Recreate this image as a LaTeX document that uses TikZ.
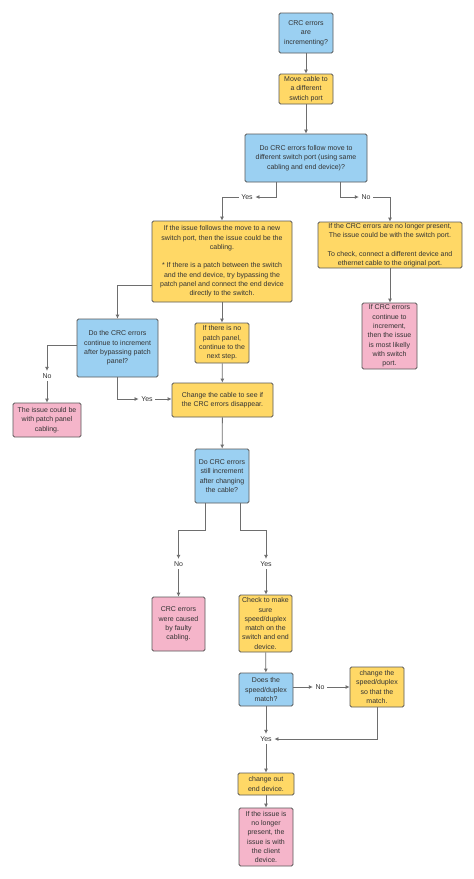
\documentclass[tikz,border=0pt]{standalone}
\usepackage{fontspec}
\setmainfont{Liberation Sans}
\usetikzlibrary{arrows.meta}
\definecolor{bblue}{HTML}{9BD0F2}
\definecolor{byell}{HTML}{FFD866}
\definecolor{bpink}{HTML}{F5B5CA}
\definecolor{bline}{HTML}{5A5A5A}
\definecolor{conn}{HTML}{6E6E6E}
\definecolor{txt}{HTML}{333333}
\begin{document}
\begin{tikzpicture}[x=1pt,y=-1pt,
  box/.style={draw=bline,line width=0.8pt,rounded corners=1.5pt,inner sep=0pt,align=center,
    text=txt,font=\fontsize{7}{9.3}\selectfont},
  qbox/.style={box,fill=bblue},
  ybox/.style={box,fill=byell},
  pbox/.style={box,fill=bpink},
  lbl/.style={text=txt,font=\fontsize{7}{9}\selectfont,inner sep=2.5pt},
  arr/.style={draw=conn,line width=0.8pt,-{Latex[length=4pt,width=4pt]}},
  ln/.style={draw=conn,line width=0.8pt}]
\useasboundingbox (0,0) rectangle (474,879);
\fill[white] (0,0) rectangle (474,879);
% boxes
\node[qbox,minimum width=54pt,minimum height=40pt] (b1) at (306,33) {CRC errors\\are\\incrementing?};
\node[ybox,minimum width=54pt,minimum height=30pt] (b2) at (306,89) {Move cable to\\a different\\swtich port};
\node[qbox,minimum width=122pt,minimum height=48pt] (b3) at (306,158) {Do CRC errors follow move to\\different switch port (using same\\cabling and end device)?};
\node[ybox,minimum width=140pt,minimum height=81pt] (b4) at (222,261.5) {If the issue follows the move to a new\\switch port, then the issue could be the\\cabling.\\[9.3pt]* If there is a patch between the switch\\and the end device, try bypassing the\\patch panel and connect the end device\\directly to the switch.};
\node[ybox,minimum width=144pt,minimum height=46pt] (b5) at (390,245) {If the CRC errors are no longer present,\\The issue could be with the switch port.\\[9.3pt]To check, connect a different device and\\ethernet cable to the original port.};
\node[pbox,minimum width=55pt,minimum height=66pt] (b6) at (389.5,336) {If CRC errors\\continue to\\increment,\\then the issue\\is most likelly\\with switch\\port.};
\node[qbox,minimum width=81pt,minimum height=58pt] (b7) at (117.5,348) {Do the CRC errors\\continue to increment\\after bypassing patch\\panel?};
\node[pbox,minimum width=68pt,minimum height=34pt] (b8) at (47,420) {The issue could be\\with patch panel\\cabling.};
\node[ybox,minimum width=101pt,minimum height=34pt] (b9) at (222.5,400) {Change the cable to see if\\the CRC errors disappear.};
\node[ybox,minimum width=54pt,minimum height=40pt] (b10) at (222,343) {If there is no\\patch panel,\\continue to the\\next step.};
\node[qbox,minimum width=54pt,minimum height=54pt] (b11) at (222,476) {Do CRC errors\\still increment\\after changing\\the cable?};
\node[pbox,minimum width=53pt,minimum height=54pt] (b12) at (178.5,624) {CRC errors\\were caused\\by faulty\\cabling.};
\node[ybox,minimum width=53pt,minimum height=57pt] (b13) at (265.5,623.5) {Check to make\\sure\\speed/duplex\\match on the\\switch and end\\device.};
\node[qbox,minimum width=54pt,minimum height=33pt] (b14) at (266,689.5) {Does the\\speed/duplex\\match?};
\node[ybox,minimum width=54pt,minimum height=40pt] (b15) at (377,687) {change the\\speed/duplex\\so that the\\match.};
\node[ybox,minimum width=56pt,minimum height=22pt] (b16) at (266,784) {change out\\end device.};
\node[pbox,minimum width=54pt,minimum height=58pt] (b17) at (266,837) {If the issue is\\no longer\\present, the\\issue is with\\the client\\device.};
% labels
\node[lbl] (yes1) at (247,197) {Yes};
\node[lbl] (no1) at (366,197) {No};
\node[lbl] (no2) at (47,376) {No};
\node[lbl] (yes2) at (147,399) {Yes};
\node[lbl] (no3) at (178.5,564) {No};
\node[lbl] (yes3) at (266,564) {Yes};
\node[lbl] (no4) at (320,687) {No};
\node[lbl] (yes4) at (266,739) {Yes};
% connectors
\draw[arr] (b1) -- (b2);
\draw[arr] (b2) -- (b3);
\draw[arr] ([xshift=-30pt]b3.south) |- (yes1);
\draw[arr] (yes1) -| (b4);
\draw[arr] ([xshift=34pt]b3.south) |- (no1);
\draw[arr] (no1) -| (b5);
\draw[arr] (b5.south) -- (b5.south |- b6.north);
\draw[arr] (b4) -- (b10);
\draw[arr] (b10) -- (b9);
\draw[arr] ([yshift=-23.5pt]b4.west) -| (b7);
\draw[arr] ([yshift=3pt]b7.west) -| (no2);
\draw[arr] (no2) -- (b8);
\draw[arr] (b7.south) |- (yes2);
\draw[arr] (yes2) -- (yes2 -| b9.west);
\draw[arr] (b9) -- (b11);
\draw[arr] ([xshift=-17pt]b11.south) -- ++(0,27) -| (no3);
\draw[arr] (no3) -- (no3 |- b12.north);
\draw[arr] ([xshift=18pt]b11.south) -- ++(0,27) -| (yes3);
\draw[arr] (yes3) -- (yes3 |- b13.north);
\draw[arr] (b13) -- (b14);
\draw[arr] (b14.east |- no4) -- (no4);
\draw[arr] (no4) -- (b15);
\draw[arr] (b15.south) |- (yes4);
\draw[arr] (b14) -- (yes4);
\draw[arr] (yes4) -- (b16);
\draw[arr] (b16) -- (b17);
\end{tikzpicture}
\end{document}
